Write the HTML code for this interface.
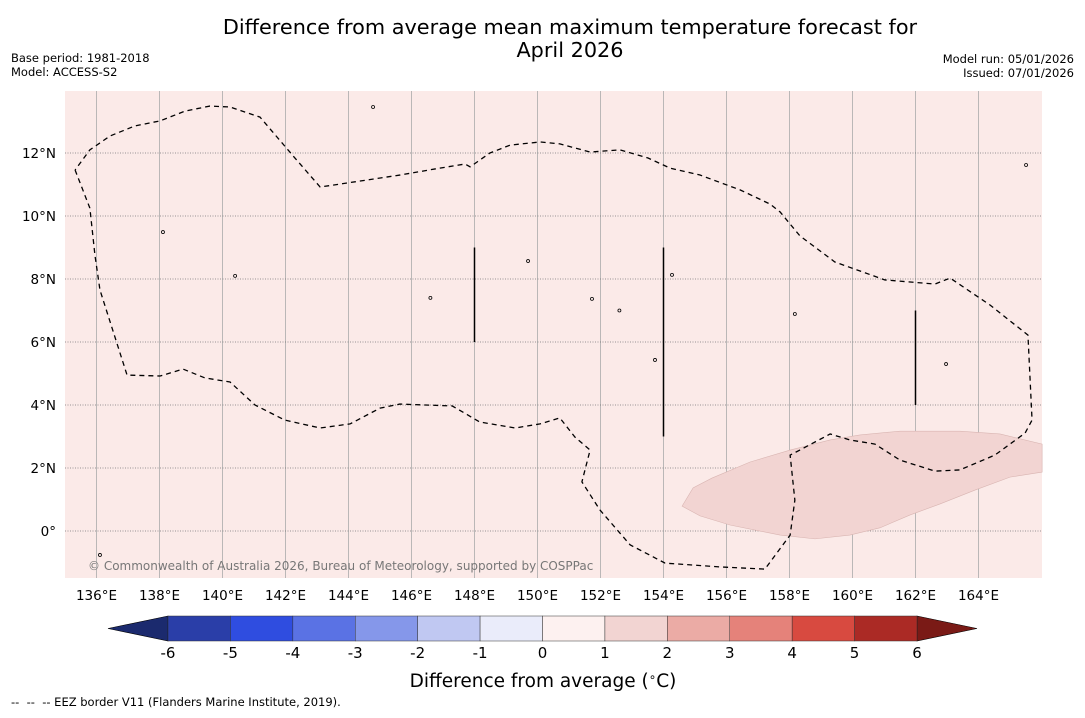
<!DOCTYPE html>
<html><head><meta charset="utf-8"><style>
body{margin:0;background:#fff;width:1085px;height:713px;overflow:hidden;font-family:"Liberation Sans","DejaVu Sans",sans-serif}
svg text{font-family:"DejaVu Sans","Liberation Sans",sans-serif}
</style></head><body>
<svg id="c" width="1085" height="713" xmlns="http://www.w3.org/2000/svg">
<text x="570" y="34" font-size="20.8" text-anchor="middle">Difference from average mean maximum temperature forecast for</text>
<text x="570" y="57" font-size="20.8" text-anchor="middle">April 2026</text>
<text x="11" y="62" font-size="11.5">Base period: 1981-2018</text>
<text x="11" y="76" font-size="11.5">Model: ACCESS-S2</text>
<text x="1074" y="63" font-size="11.5" text-anchor="end">Model run: 05/01/2026</text>
<text x="1074" y="77" font-size="11.5" text-anchor="end">Issued: 07/01/2026</text>
<rect x="65" y="91" width="977" height="487" fill="#fbeae8"/>
<g id="grid"></g>
<g id="marks"></g>
<text x="88" y="570" font-size="12" fill="#777">© Commonwealth of Australia 2026, Bureau of Meteorology, supported by COSPPac</text>
<g id="cbar"></g>
<text x="543" y="687" font-size="18.5" text-anchor="middle">Difference from average (<tspan font-size="12" dy="-6">∘</tspan><tspan dy="6">C)</tspan></text>
<text x="11" y="706" font-size="11.5" xml:space="preserve">--  --  -- EEZ border V11 (Flanders Marine Institute, 2019).</text>
</svg>
<script>
const lonTicks=[136,138,140,142,144,146,148,150,152,154,156,158,160,162,164];
const latTicks=[0,2,4,6,8,10,12];
const cbLevels=[-6,-5,-4,-3,-2,-1,0,1,2,3,4,5,6];
const cbColors=["#2a3ea8","#2f4de0","#5a72e4","#8597ea","#c0c8f2","#eaecfa","#fdf1f0","#f2d4d2","#ebaba5","#e5827a","#d84a40","#ab2a25"];
const eezLon=[135.32,135.79,135.95,136.11,136.97,138.02,138.75,139.44,140.24,141.03,141.98,143.10,144.05,145.0,145.63,146.43,147.29,148.17,149.29,150.08,150.71,151.19,151.67,151.41,151.98,152.94,154.05,155.79,157.22,158.02,158.17,158.02,158.33,159.29,159.92,160.71,161.51,162.62,163.41,164.52,165.48,165.70,165.57,164.37,163.10,162.62,161.03,159.44,158.33,157.70,157.38,156.43,155.16,154.21,153.51,152.62,151.67,150.71,150.08,149.13,148.49,147.86,147.70,146.90,145.63,144.37,143.10,142.30,141.19,140.24,139.60,138.81,138.02,137.22,136.43,135.79,135.32];
const eezLat=[11.46,10.25,8.76,7.65,4.95,4.92,5.14,4.86,4.73,4.0,3.52,3.27,3.40,3.90,4.03,4.0,3.97,3.46,3.27,3.40,3.59,2.98,2.57,1.56,0.67,-0.44,-1.02,-1.14,-1.21,-0.13,0.98,2.41,2.57,3.08,2.89,2.76,2.25,1.90,1.94,2.41,3.11,3.52,6.22,7.17,8.03,7.84,7.97,8.54,9.37,10.13,10.38,10.83,11.30,11.52,11.84,12.10,12.03,12.29,12.35,12.25,12.0,11.56,11.65,11.52,11.30,11.11,10.92,11.84,13.14,13.46,13.49,13.33,13.02,12.86,12.54,12.10,11.46];
const anomLon=[154.59,154.94,155.54,156.75,158.02,159.29,160.24,161.51,163.41,164.68,166.02,166.02,165.0,163.89,162.78,161.83,160.87,159.92,158.81,157.70,156.11,155.16];
const anomLat=[0.79,1.37,1.68,2.19,2.57,2.89,3.05,3.17,3.17,3.08,2.76,1.87,1.71,1.30,0.86,0.51,0.10,-0.13,-0.25,-0.13,0.19,0.48];
const segLon=[148,154,162];const segLat0=[6,3,4];const segLat1=[9,9,7];
const isleLon=[144.78,138.11,158.17,162.97,151.73,149.70,154.27,165.51,153.73,136.11,140.4,146.6,152.6];
const isleLat=[13.46,9.49,6.89,5.30,7.37,8.57,8.13,11.62,5.43,-0.76,8.1,7.4,7.0];
const X=lon=>65+(lon-135)*31.5, Y=lat=>531-lat*31.5;
const NS='http://www.w3.org/2000/svg';
function mk(tag,attrs,parent){const e=document.createElementNS(NS,tag);for(const k in attrs)e.setAttribute(k,attrs[k]);parent.appendChild(e);return e;}
const grid=document.getElementById('grid'),marks=document.getElementById('marks'),cb=document.getElementById('cbar');
let p=anomLon.map((l,i)=>X(l)+','+Y(anomLat[i])).join(' ');
let a=mk('polygon',{points:p,fill:'#f2d4d2',stroke:'#d9b5b2','stroke-width':0.6},marks);


lonTicks.forEach(l=>{
 let g=mk('line',{x1:X(l),x2:X(l),y1:91,y2:578,stroke:'#aaa','stroke-width':0.8},grid);
 
 
 let t=mk('text',{x:X(l),y:600,'font-size':13.5,'text-anchor':'middle'},grid);t.textContent=l+'°E';
 
 
});
latTicks.forEach(l=>{
 let g=mk('line',{x1:65,x2:1042,y1:Y(l),y2:Y(l),stroke:'#777','stroke-width':0.8,'stroke-dasharray':'1,1.5'},grid);
 
 
 let t=mk('text',{x:56,y:Y(l)+5,'font-size':13.5,'text-anchor':'end'},grid);t.textContent=l===0?'0°':l+'°N';
 
 
});
p=eezLon.map((l,i)=>X(l)+','+Y(eezLat[i])).join(' ');
let e=mk('polyline',{points:p,fill:'none',stroke:'#000','stroke-width':1.3,'stroke-dasharray':'5,4'},marks);


segLon.forEach((l,i)=>{let s=mk('line',{x1:X(l),x2:X(l),y1:Y(segLat0[i]),y2:Y(segLat1[i]),stroke:'#000','stroke-width':1.5},marks);
 
 });
isleLon.forEach((l,i)=>{let s=mk('circle',{cx:X(l),cy:Y(isleLat[i]),r:1.5,fill:'none',stroke:'#000','stroke-width':0.8},marks);
 
 });
const cx0=168,cw=(917-168)/12,cy=616,ch=25;
const CX=v=>cx0+(v+6)*cw;
let tl=mk('polygon',{points:`${CX(-6)},${cy} 108,${cy+ch/2} ${CX(-6)},${cy+ch}`,fill:'#1b2a6e',stroke:'#000','stroke-width':0.6},cb);


let tr=mk('polygon',{points:`${CX(6)},${cy} 977,${cy+ch/2} ${CX(6)},${cy+ch}`,fill:'#7a1a16',stroke:'#000','stroke-width':0.6},cb);


cbColors.forEach((c,i)=>{let r=mk('rect',{x:CX(cbLevels[i]),y:cy,width:cw,height:ch,fill:c,stroke:'#333','stroke-width':0.5},cb);
 
 });
cbLevels.forEach(v=>{let t=mk('text',{x:CX(v),y:cy+ch+17,'font-size':15,'text-anchor':'middle'},cb);t.textContent=v;
 
 });
</script>
</body></html>
